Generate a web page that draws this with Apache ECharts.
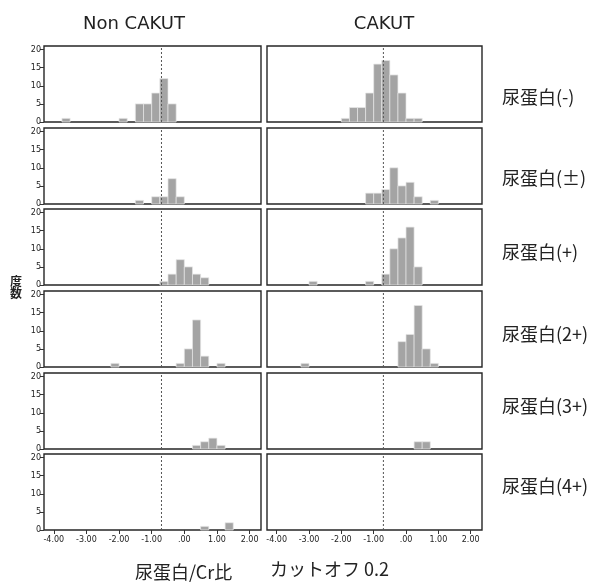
<!DOCTYPE html>
<html>
<head>
<meta charset="utf-8">
<script src="https://cdn.jsdelivr.net/npm/echarts@6/dist/echarts.min.js"></script>
<style>
  html, body { margin: 0; padding: 0; background: #fff; }
  #chart { width: 600px; height: 585px; }
</style>
</head>
<body>
<div id="chart"></div>
<script>
// ---- data ----
const colLabels = ['Non CAKUT', 'CAKUT'];
const rowLabels = ['尿蛋白(-)', '尿蛋白(±)', '尿蛋白(+)', '尿蛋白(2+)', '尿蛋白(3+)', '尿蛋白(4+)'];
const xTitle1 = '尿蛋白/Cr比';
const xTitle2 = 'カットオフ 0.2';
const yTitle = '度数';
const xTicks = [-4, -3, -2, -1, 0, 1, 2];
const yTicks = [0, 5, 10, 15, 20];
const cutoff = -0.7;     // log10(0.2)
const binWidth = 0.25;
// histogram bins: [bin start, count]
const nonCakutMinus = [[-3.75, 1], [-2, 1], [-1.5, 5], [-1.25, 5], [-1, 8], [-0.75, 12], [-0.5, 5]];
const nonCakutPm    = [[-1.5, 1], [-1, 2], [-0.75, 2], [-0.5, 7], [-0.25, 2]];
const nonCakutPlus  = [[-0.75, 1], [-0.5, 3], [-0.25, 7], [0, 5], [0.25, 3], [0.5, 2]];
const nonCakut2p    = [[-2.25, 1], [-0.25, 1], [0, 5], [0.25, 13], [0.5, 3], [1, 1]];
const nonCakut3p    = [[0.25, 1], [0.5, 2], [0.75, 3], [1, 1]];
const nonCakut4p    = [[0.5, 1], [1.25, 2]];
const cakutMinus    = [[-2, 1], [-1.75, 4], [-1.5, 4], [-1.25, 8], [-1, 16], [-0.75, 17], [-0.5, 13], [-0.25, 8], [0, 1], [0.25, 1]];
const cakutPm       = [[-1.25, 3], [-1, 3], [-0.75, 4], [-0.5, 10], [-0.25, 5], [0, 6], [0.25, 2], [0.75, 1]];
const cakutPlus     = [[-3, 1], [-1.25, 1], [-0.75, 3], [-0.5, 10], [-0.25, 13], [0, 16], [0.25, 5]];
const cakut2p       = [[-3.25, 1], [-0.25, 7], [0, 9], [0.25, 17], [0.5, 5], [0.75, 1]];
const cakut3p       = [[0.25, 2], [0.5, 2]];
const cakut4p       = [];

const panels = [
  [nonCakutMinus, cakutMinus],
  [nonCakutPm, cakutPm],
  [nonCakutPlus, cakutPlus],
  [nonCakut2p, cakut2p],
  [nonCakut3p, cakut3p],
  [nonCakut4p, cakut4p]
];

// ---- layout ----
const xMin = -4.3, xMax = 2.35, yMax = 21;
const colLeft = [44, 267];
const colWidth = [217, 215];
const rowTop = [46, 128, 209, 291, 373, 454];
const rowH = 76;
const rowLabelY = [97, 178, 252, 334, 406, 486];

const grids = [], xAxes = [], yAxes = [], series = [];
const fmtX = v => (v === 0 ? '.00' : v.toFixed(2));

for (let r = 0; r < 6; r++) {
  for (let c = 0; c < 2; c++) {
    const idx = grids.length;
    grids.push({
      left: colLeft[c], top: rowTop[r], width: colWidth[c], height: rowH,
      show: true, borderColor: '#262626', borderWidth: 1.4, backgroundColor: '#fff',
      containLabel: false
    });
    xAxes.push({
      type: 'value', gridIndex: idx, min: xMin, max: xMax, position: 'bottom',
      axisLine: { show: false, onZero: false },
      axisTick: { show: r === 5, customValues: xTicks, length: 4, lineStyle: { color: '#333', width: 1 } },
      axisLabel: { show: r === 5, customValues: xTicks, formatter: fmtX, fontSize: 8,
                   color: '#222', margin: 6, fontFamily: 'DejaVu Sans' },
      splitLine: { show: false }
    });
    yAxes.push({
      type: 'value', gridIndex: idx, min: 0, max: yMax, position: 'left',
      axisLine: { show: false, onZero: false },
      axisTick: { show: c === 0, customValues: yTicks, length: 4, lineStyle: { color: '#333', width: 1 } },
      axisLabel: { show: c === 0, customValues: yTicks, fontSize: 8, color: '#222',
                   margin: 3, fontFamily: 'DejaVu Sans' },
      splitLine: { show: false }
    });
    series.push({
      type: 'custom', xAxisIndex: idx, yAxisIndex: idx,
      encode: { x: 0, y: 1 },
      data: panels[r][c],
      renderItem: function (params, api) {
        const x0 = api.value(0), n = api.value(1);
        const p1 = api.coord([x0, n]);
        const p2 = api.coord([x0 + binWidth, 0]);
        return {
          type: 'rect',
          shape: { x: p1[0], y: p1[1], width: p2[0] - p1[0], height: p2[1] - p1[1] },
          style: { fill: '#a4a4a4', stroke: '#e6e6e6', lineWidth: 0.7 }
        };
      },
      silent: true, z: 2
    });
    series.push({
      type: 'line', xAxisIndex: idx, yAxisIndex: idx,
      data: [[cutoff, 0], [cutoff, yMax]],
      symbol: 'none', silent: true, z: 3,
      lineStyle: { color: '#555', width: 1, type: [2, 2] }
    });
  }
}

const graphics = [];
graphics.push({ type: 'text', x: 134, y: 24, style: { text: colLabels[0], font: '18px "DejaVu Sans"', fill: '#222', textAlign: 'center', textVerticalAlign: 'middle' } });
graphics.push({ type: 'text', x: 384, y: 24, style: { text: colLabels[1], font: '18px "DejaVu Sans"', fill: '#222', textAlign: 'center', textVerticalAlign: 'middle' } });
for (let r = 0; r < 6; r++) {
  graphics.push({ type: 'text', x: 502, y: rowLabelY[r], style: { text: rowLabels[r], font: '18px "Noto Sans CJK JP"', fill: '#222', textAlign: 'left', textVerticalAlign: 'middle' } });
}
graphics.push({ type: 'text', x: 16, y: 287, style: { text: yTitle.split('').join('\n'), font: 'bold 12px "Noto Sans CJK JP"', fill: '#222', textAlign: 'center', textVerticalAlign: 'middle', lineHeight: 12 } });
graphics.push({ type: 'text', x: 135, y: 572, style: { text: xTitle1, font: '18px "Noto Sans CJK JP"', fill: '#222', textAlign: 'left', textVerticalAlign: 'middle' } });
graphics.push({ type: 'text', x: 270, y: 569, style: { text: xTitle2, font: '18px "Noto Sans CJK JP"', fill: '#222', textAlign: 'left', textVerticalAlign: 'middle' } });

const chart = echarts.init(document.getElementById('chart'), null, { renderer: 'canvas' });
chart.setOption({
  animation: false,
  backgroundColor: '#fff',
  grid: grids, xAxis: xAxes, yAxis: yAxes, series: series,
  graphic: graphics
});
</script>
</body>
</html>
